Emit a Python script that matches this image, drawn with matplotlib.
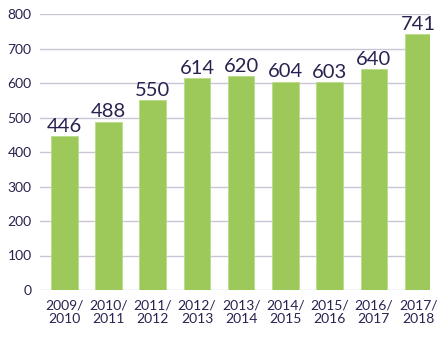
import matplotlib.pyplot as plt

years = ['2009/\n2010', '2010/\n2011', '2011/\n2012', '2012/\n2013', '2013/\n2014',
         '2014/\n2015', '2015/\n2016', '2016/\n2017', '2017/\n2018']
values = [446, 488, 550, 614, 620, 604, 603, 640, 741]

text_col = '#2b2150'
plt.rcParams['font.family'] = ['Lato', 'DejaVu Sans']

fig = plt.figure(figsize=(4.46, 3.38), dpi=100)
ax = fig.add_axes([40/446, 1 - 290/338, 390/446, 276/338])

x = range(len(values))
bars = ax.bar(x, values, width=0.6, color='#9dc85a', edgecolor='#b8dc88', linewidth=0.6, zorder=3)
for xi, v in zip(x, values):
    ax.text(xi, v + 4, str(v), ha='center', va='bottom', fontsize=14.5, color=text_col)

ax.set_ylim(0, 800)
ax.set_xlim(-0.55, 8.27)
ax.set_yticks(range(0, 801, 100))
ax.set_xticks(list(x))
ax.set_xticklabels(years, linespacing=1.1)
ax.yaxis.grid(True, color='#c9c5d6', linewidth=1, zorder=0)
for s in ax.spines.values():
    s.set_visible(False)
ax.tick_params(axis='both', length=0, labelsize=10, colors=text_col)
ax.tick_params(axis='y', pad=6)
ax.tick_params(axis='x', pad=7)

fig.savefig('out.png', dpi=100)
